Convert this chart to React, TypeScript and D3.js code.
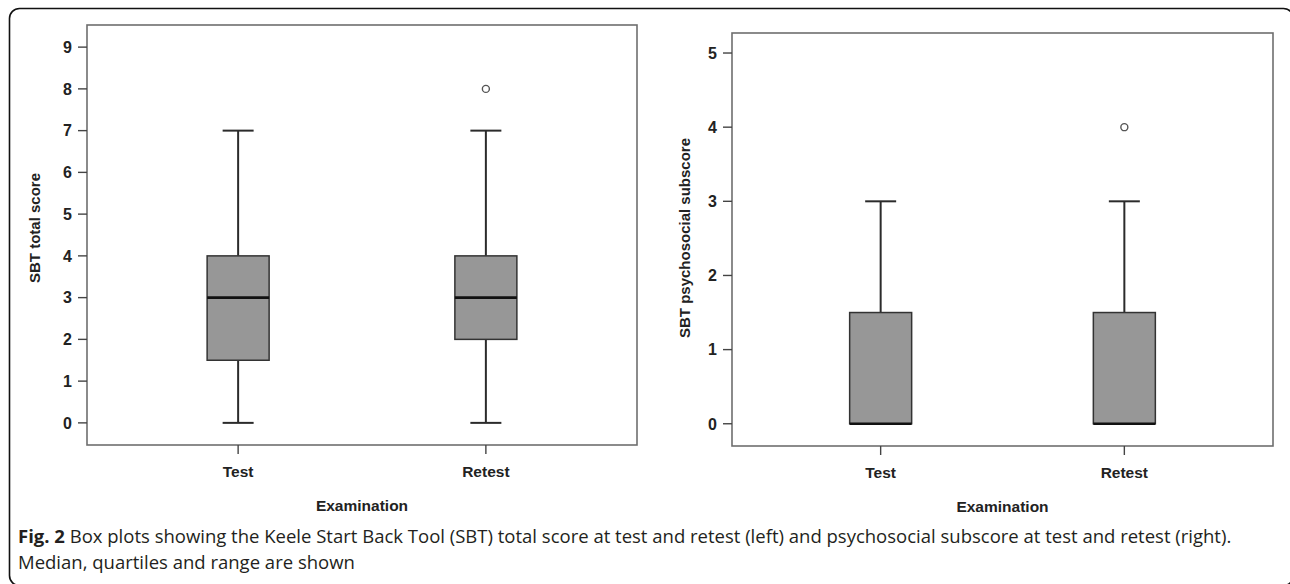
import React from 'react';
import * as d3 from 'd3';

// box stats: [min, q1, median, q3, max]
const categories = ['Test', 'Retest'];
const totalScore = [
  [0, 1.5, 3, 4, 7],
  [0, 2, 3, 4, 7],
];
const totalOutliers = [[], [8]];
const totalTicks = [0, 1, 2, 3, 4, 5, 6, 7, 8, 9];

const psychScore = [
  [0, 0, 0, 1.5, 3],
  [0, 0, 0, 1.5, 3],
];
const psychOutliers = [[], [4]];
const psychTicks = [0, 1, 2, 3, 4, 5];

const captionBold = 'Fig. 2';
const captionLine1 = ' Box plots showing the Keele Start Back Tool (SBT) total score at test and retest (left) and psychosocial subscore at test and retest (right).';
const captionLine2 = 'Median, quartiles and range are shown';

const W = 1290;
const H = 584;
const chartFont = '"Liberation Sans", Arial, sans-serif';

function BoxPanel({ left, right, top, bottom, domain, ticks, stats, outliers, yLabel, yLabelX, yLabelY }) {
  const x = d3.scalePoint().domain(categories).range([left, right]).padding(0.61);
  const y = d3.scaleLinear().domain(domain).range([bottom, top]);
  const boxW = 62;
  const capW = 31;
  const midX = (left + right) / 2;

  return (
    <g>
      {/* frame */}
      <rect x={left} y={top} width={right - left} height={bottom - top}
        fill="#fff" stroke="#6e6e6e" strokeWidth={1.6} />

      {/* y axis */}
      {ticks.map(t => (
        <g key={t}>
          <line x1={left - 9} x2={left} y1={y(t)} y2={y(t)} stroke="#444" strokeWidth={1.4} />
          <text x={left - 15} y={y(t)} dy="0.36em" textAnchor="end"
            fontFamily={chartFont} fontWeight="bold" fontSize={16} fill="#222">{t}</text>
        </g>
      ))}
      <text transform={`translate(${yLabelX},${yLabelY}) rotate(-90)`} textAnchor="middle" dy="0.36em"
        fontFamily={chartFont} fontWeight="bold" fontSize={15} fill="#222">{yLabel}</text>

      {/* x axis */}
      {categories.map(c => (
        <g key={c}>
          <line x1={x(c)} x2={x(c)} y1={bottom} y2={bottom + 9} stroke="#444" strokeWidth={1.4} />
          <text x={x(c)} y={bottom + 32} textAnchor="middle"
            fontFamily={chartFont} fontWeight="bold" fontSize={15.5} fill="#222">{c}</text>
        </g>
      ))}
      <text x={midX} y={bottom + 66} textAnchor="middle"
        fontFamily={chartFont} fontWeight="bold" fontSize={15.5} fill="#222">Examination</text>

      {/* boxes */}
      {categories.map((c, i) => {
        const [mn, q1, med, q3, mx] = stats[i];
        const cx = x(c);
        return (
          <g key={c}>
            <line x1={cx} x2={cx} y1={y(q3)} y2={y(mx)} stroke="#2b2b2b" strokeWidth={2} />
            <line x1={cx} x2={cx} y1={y(mn)} y2={y(q1)} stroke="#2b2b2b" strokeWidth={2} />
            <line x1={cx - capW / 2} x2={cx + capW / 2} y1={y(mx)} y2={y(mx)} stroke="#2b2b2b" strokeWidth={2} />
            <line x1={cx - capW / 2} x2={cx + capW / 2} y1={y(mn)} y2={y(mn)} stroke="#2b2b2b" strokeWidth={2} />
            <rect x={cx - boxW / 2} y={y(q3)} width={boxW} height={Math.max(y(q1) - y(q3), 0)}
              fill="#979797" stroke="#333" strokeWidth={1.5} />
            <line x1={cx - boxW / 2} x2={cx + boxW / 2} y1={y(med)} y2={y(med)} stroke="#111" strokeWidth={2.6} />
            {outliers[i].map(o => (
              <circle key={o} cx={cx} cy={y(o)} r={3.5} fill="#fff" stroke="#555" strokeWidth={1.4} />
            ))}
          </g>
        );
      })}
    </g>
  );
}

export default function App() {
  return (
    <svg width={W} height={H} style={{ position: 'absolute', left: 0, top: 0, background: '#fff' }}>
      <rect x={9.5} y={8.5} width={1284} height={577} rx={10} fill="#fff" stroke="#111" strokeWidth={1.6} />

      <BoxPanel left={87} right={637} top={25} bottom={445} domain={[-0.53, 9.53]}
        ticks={totalTicks} stats={totalScore} outliers={totalOutliers}
        yLabel="SBT total score" yLabelX={35} yLabelY={228} />
      <BoxPanel left={732} right={1273} top={33} bottom={446} domain={[-0.3, 5.27]}
        ticks={psychTicks} stats={psychScore} outliers={psychOutliers}
        yLabel="SBT psychosocial subscore" yLabelX={685} yLabelY={238} />

      <text x={18} y={543} fontFamily='"Open Sans", sans-serif' fontSize={18.5} fill="#231f20">
        <tspan fontWeight="bold">{captionBold}</tspan>{captionLine1}
      </text>
      <text x={18} y={569} fontFamily='"Open Sans", sans-serif' fontSize={18.5} fill="#231f20">
        {captionLine2}
      </text>
    </svg>
  );
}
